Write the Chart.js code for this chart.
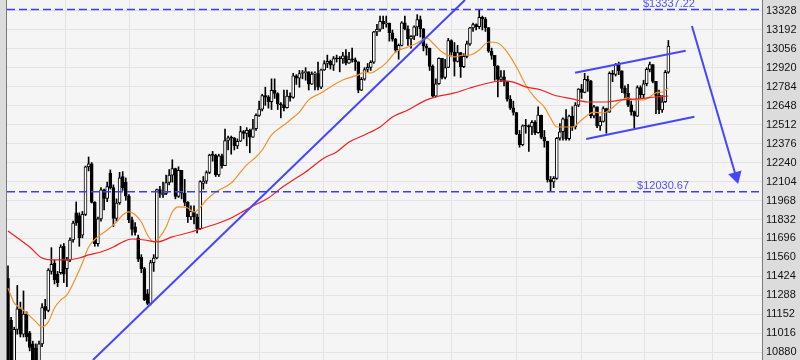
<!DOCTYPE html>
<html>
<head>
<meta charset="utf-8">
<script src="https://cdn.jsdelivr.net/npm/chart.js@4.4.1/dist/chart.umd.min.js"></script>
<style>
  html, body { margin: 0; padding: 0; background: #f5f5f5; }
  canvas { display: block; }
</style>
</head>
<body>
<canvas id="chart" width="800" height="360"></canvas>
<script>
// daily candles, index 0 = first visible session
const OPEN = [11410,11110,10800,11044,11191,11011,11154,11020,10940,10910,10810,10940,11210,11180,11460,11520,11440,11450,11640,11480,
  11542,11685,11880,11860,11720,11869,12209,12231,11955,11658,11836,12044,11983,12165,12060,11840,11950,12140,12100,12000,
  11830,11780,11700,11560,11480,11300,11231,11523,11556,12046,12010,12019,12097,12150,12196,11997,12184,12021,11955,11850,
  11890,11850,11766,12090,12107,12169,12294,12291,12151,12288,12218,12398,12418,12415,12360,12393,12462,12449,12471,12422,
  12482,12578,12623,12720,12709,12676,12758,12735,12660,12654,12633,12716,12706,12862,12845,12878,12884,12891,12801,12874,
  12878,12781,12904,12950,12966,12938,12985,12983,12982,13005,12952,12980,12977,12962,12759,12837,12907,12922,12959,13177,
  13194,13253,13233,13239,13170,13125,13046,13080,13241,13197,13126,13145,13212,13264,13199,13075,13060,12929,12715,12805,
  12987,12850,12921,13115,13032,12965,13029,12928,13001,13090,13205,13229,13214,13280,13269,13207,13038,13008,12932,12835,
  12855,12821,12695,12632,12599,12443,12369,12504,12502,12496,12529,12455,12580,12420,12393,12118,12101,12127,12414,12461,
  12554,12411,12573,12496,12652,12767,12742,12837,12824,12574,12640,12502,12535,12627,12602,12880,12871,12943,12897,12772,
  12736,12653,12605,12573,12777,12727,12805,12908,12943,12822,12721,12617,12676,12887];
const HIGH = [11500,11130,11060,11360,11240,11320,11170,11030,10960,10940,10960,11230,11260,11480,11630,11540,11460,11650,11660,11560,
  11700,11820,11958,11880,11890,12215,12280,12240,11960,11850,12060,12050,12100,12187,12080,11980,12170,12175,12130,12010,
  11850,11810,11720,11580,11490,11330,11540,11580,12050,12070,12100,12150,12190,12260,12200,12210,12184,12120,11960,11930,
  11930,11870,12110,12140,12180,12300,12320,12300,12300,12300,12480,12430,12430,12420,12410,12500,12470,12490,12480,12550,
  12590,12680,12730,12780,12720,12840,12840,12740,12670,12760,12760,12740,12880,12870,12900,12900,12920,12891,12890,12890,
  12960,12910,12970,13010,12975,13000,13010,13000,13030,13050,13030,13060,12990,12962,12850,12920,12950,12970,13180,13230,
  13290,13290,13290,13240,13190,13130,13090,13250,13290,13220,13150,13220,13300,13290,13200,13090,13060,12940,12840,12990,
  12987,12980,13130,13120,13100,13080,13030,13020,13110,13210,13240,13235,13338,13290,13280,13207,13060,13008,12935,12900,
  12900,12821,12720,12680,12600,12470,12510,12550,12510,12540,12540,12640,12580,12470,12393,12140,12140,12420,12520,12560,
  12620,12580,12640,12670,12770,12800,12880,12860,12830,12650,12640,12570,12640,12630,12890,12900,12950,12960,12897,12790,
  12800,12680,12610,12790,12790,12830,12920,12960,12943,12822,12760,12720,12900,13115];
const LOW = [10700,10700,10760,11010,10990,10990,10960,10890,10600,10500,10760,10920,11120,11170,11440,11370,11350,11440,11380,11350,
  11530,11670,11790,11640,11700,11860,12180,11950,11640,11640,11820,11900,11960,12050,11780,11820,11940,12040,11970,11810,
  11720,11720,11530,11450,11250,11220,11220,11460,11550,11990,11990,12010,12080,12100,11980,11990,11980,11930,11810,11830,
  11800,11735,11760,12050,12090,12160,12250,12140,12140,12200,12218,12330,12300,12330,12340,12390,12410,12360,12310,12420,
  12470,12570,12610,12650,12630,12620,12700,12620,12560,12610,12630,12680,12700,12800,12780,12840,12830,12760,12800,12760,
  12760,12770,12900,12920,12910,12900,12960,12890,12950,12940,12950,12960,12900,12740,12755,12830,12890,12900,12950,13150,
  13180,13200,13210,13110,13110,13030,12980,13075,13190,13080,13060,13120,13150,13140,13040,13010,12900,12710,12710,12800,
  12840,12840,12920,13010,12860,12960,12850,12920,12990,13080,13180,13190,13200,13190,13180,13030,12980,12830,12710,12820,
  12790,12680,12620,12580,12440,12350,12360,12450,12320,12440,12440,12450,12410,12350,12100,12035,12060,12120,12400,12400,
  12400,12400,12470,12480,12640,12700,12740,12750,12560,12560,12490,12470,12530,12450,12600,12820,12860,12870,12740,12700,
  12640,12580,12490,12570,12700,12700,12790,12890,12810,12590,12590,12600,12670,12880];
const CLOSE = [10760,10790,11044,11191,11011,11154,10990,10915,10700,10810,10940,11200,11180,11470,11510,11400,11380,11635,11440,11542,
  11685,11807,11810,11700,11869,12209,12231,11955,11658,11836,12044,11983,12068,12060,11840,11950,12130,12060,12000,11830,
  11760,11740,11547,11480,11257,11231,11523,11556,12046,12020,12019,12097,12150,12196,11997,12184,12021,11955,11850,11890,
  11850,11766,12103,12107,12169,12294,12291,12151,12288,12218,12398,12418,12415,12360,12393,12462,12449,12471,12422,12482,
  12578,12623,12720,12709,12676,12758,12735,12660,12654,12633,12716,12706,12862,12845,12878,12884,12891,12801,12874,12878,
  12781,12904,12950,12966,12938,12985,12983,12982,13005,12952,12980,12977,12962,12759,12837,12907,12922,12959,13177,13194,
  13253,13233,13239,13170,13125,13046,13080,13241,13197,13126,13145,13212,13264,13199,13075,13060,12929,12715,12805,12987,
  12850,12921,13115,13032,12965,13029,12928,13001,13090,13205,13229,13214,13280,13269,13207,13038,13008,12932,12835,12855,
  12821,12695,12632,12599,12443,12369,12504,12502,12496,12529,12455,12580,12420,12393,12118,12101,12127,12414,12461,12554,
  12411,12573,12496,12652,12767,12742,12837,12824,12574,12640,12502,12535,12627,12602,12880,12871,12943,12897,12772,12736,
  12653,12605,12573,12777,12727,12805,12908,12943,12822,12721,12617,12676,12887,13075];

// moving averages at these candle indexes
const MA20_IDX = [0,2,4,6,9,11,13,15,17,19,22,24,26,29,32,35,37,39,43,45,47,49,51,53,55,58,60,64,67,72,75,77,80,82,85,89,91,94,97,
  101,104,108,113,115,117,119,122,125,129,132,135,137,140,144,147,149,152,155,158,161,164,167,170,173,175,177,179,182,185,187,189,
  192,194,196,198,200,202,205,209,211,213];
const MA20 = [11340,11234,11198,11162,11098,11062,11098,11198,11255,11291,11420,11520,11635,11707,11757,11814,11864,11886,11814,11721,
  11671,11707,11778,11886,11922,11914,11886,11972,12029,12094,12172,12223,12280,12330,12438,12509,12545,12602,12689,
  12739,12782,12832,12868,12889,12882,12903,12954,13032,13068,13097,13133,13097,13032,12997,13011,13011,13047,13104,13097,13032,
  12925,12796,12703,12638,12559,12495,12495,12495,12545,12581,12602,12595,12617,12653,12689,12703,12689,12689,12739,12746,12774];
const MA50_IDX = [0,7,11,15,19,23,26,30,34,37,40,44,48,53,59,64,68,72,75,79,84,89,92,96,102,106,110,115,120,124,129,135,138,144,
  149,155,159,163,167,172,176,182,187,193,198,203,209,213];
const MA50 = [11750,11635,11556,11542,11542,11556,11578,11599,11635,11671,11692,11685,11671,11707,11742,11778,11807,11843,11879,
  11929,11986,12072,12115,12172,12273,12316,12387,12438,12495,12567,12617,12689,12710,12739,12774,12810,12825,12817,12782,12760,
  12724,12696,12674,12674,12689,12696,12710,12717];

// drawn lines: [index, price] end points
const TREND_UP = [[27.4, 10825], [147.4, 13405]];
const CHANNEL_TOP = [[182.9, 12884], [218.6, 13042]];
const CHANNEL_BOTTOM = [[186.5, 12409], [221.4, 12569]];
const ARROW = [[220.6, 13219], [234.8, 12142]];
const LEVEL_HIGH = 13337.22;
const LEVEL_LOW = 12030.67;

const Y_TICKS = [13328,13192,13056,12920,12784,12648,12512,12376,12240,12104,11968,11832,11696,11560,11424,11288,11152,11016,10880];
const MONTH_LINES = [8.1, 28.7, 49.7, 70.6, 91.6, 111.9, 132.9, 152.9, 175.2, 194.8, 215.8, 238.4];

const X_MIN = -0.32;
const X_MAX = 243.2;
const Y_MIN = 10825;
const Y_MAX = 13405;

const BLUE = "#4646ff";

function toPoints(pairs) {
  return pairs.map(([x, y]) => ({ x, y }));
}

function lineSet(pairs, extra) {
  return Object.assign({
    type: "line",
    data: toPoints(pairs),
    borderColor: BLUE,
    backgroundColor: BLUE,
    borderWidth: 2,
    pointRadius: 0,
    order: 0,
  }, extra);
}

const isUp = (i) => CLOSE[i] >= OPEN[i];

// no label overhang padding, the plot runs edge to edge
function noPadding(scale) {
  scale.paddingTop = 0;
  scale.paddingBottom = 0;
  scale.paddingLeft = 0;
  scale.paddingRight = 0;
}

const frame = {
  id: "frame",
  beforeDraw(chart) {
    const { ctx, chartArea: a, width, height } = chart;
    ctx.save();
    ctx.fillStyle = "#f5f5f5";
    ctx.fillRect(0, 0, width, height);
    ctx.fillStyle = "#dcdcdc";
    ctx.fillRect(a.right, 0, width - a.right, height);
    ctx.fillRect(0, 0, a.left - 1, height);
    ctx.strokeStyle = "#7a7a7a";
    ctx.lineWidth = 1;
    ctx.beginPath();
    ctx.moveTo(a.left - 0.5, 0);
    ctx.lineTo(a.left - 0.5, height);
    ctx.stroke();
    ctx.restore();
  },
  afterDatasetsDraw(chart) {
    const { ctx, scales } = chart;
    ctx.save();
    ctx.font = "11px 'Liberation Sans', Arial, sans-serif";
    ctx.fillStyle = "#5050ff";
    ctx.textBaseline = "alphabetic";
    ctx.textAlign = "left";
    ctx.fillText("$" + LEVEL_HIGH.toFixed(2), scales.x.getPixelForValue(204.8), scales.y.getPixelForValue(LEVEL_HIGH) - 2);
    ctx.fillText("$" + LEVEL_LOW.toFixed(2), scales.x.getPixelForValue(202.9), scales.y.getPixelForValue(LEVEL_LOW) - 3);
    ctx.restore();
  },
};

new Chart(document.getElementById("chart"), {
  type: "bar",
  data: {
    datasets: [
      {
        label: "wick",
        data: CLOSE.map((c, i) => ({ x: i, y: [LOW[i], HIGH[i]] })),
        backgroundColor: "#000",
        barThickness: 1,
        grouped: false,
        order: 4,
      },
      {
        label: "body",
        data: CLOSE.map((c, i) => ({ x: i, y: [OPEN[i], c] })),
        backgroundColor: (ctx) => (isUp(ctx.dataIndex) ? "#ffffff" : "#000000"),
        borderColor: "#000",
        borderWidth: 1,
        borderSkipped: false,
        barThickness: 3,
        minBarLength: 1,
        grouped: false,
        order: 3,
      },
      {
        type: "line",
        label: "MA20",
        data: MA20_IDX.map((x, i) => ({ x, y: MA20[i] })),
        borderColor: "#f0922e",
        borderWidth: 1.2,
        pointRadius: 0,
        cubicInterpolationMode: "monotone",
        order: 2,
      },
      {
        type: "line",
        label: "MA50",
        data: MA50_IDX.map((x, i) => ({ x, y: MA50[i] })),
        borderColor: "#f02020",
        borderWidth: 1.2,
        pointRadius: 0,
        cubicInterpolationMode: "monotone",
        order: 1,
      },
      lineSet([[X_MIN, LEVEL_HIGH], [X_MAX, LEVEL_HIGH]], { borderDash: [8, 4], borderWidth: 1.5, borderColor: "#3c3cff" }),
      lineSet([[X_MIN, LEVEL_LOW], [X_MAX, LEVEL_LOW]], { borderDash: [8, 4], borderWidth: 1.5, borderColor: "#3c3cff" }),
      lineSet(TREND_UP),
      lineSet(CHANNEL_TOP),
      lineSet(CHANNEL_BOTTOM),
      lineSet(ARROW, {
        pointRadius: [0, 8],
        pointStyle: "triangle",
        pointRotation: 164,
        pointBorderWidth: 0,
      }),
    ],
  },
  options: {
    responsive: false,
    animation: false,
    layout: { autoPadding: false, padding: { left: 7, right: 0, top: 0, bottom: 0 } },
    plugins: { legend: { display: false }, tooltip: { enabled: false } },
    scales: {
      x: {
        type: "linear",
        min: X_MIN,
        max: X_MAX,
        offset: false,
        ticks: { display: false },
        border: { display: false },
        grid: { color: "#e3e3e3", drawTicks: false },
        afterBuildTicks: (scale) => { scale.ticks = MONTH_LINES.map((value) => ({ value })); },
        afterFit: (scale) => { scale.height = 0; noPadding(scale); },
      },
      y: {
        position: "right",
        min: Y_MIN,
        max: Y_MAX,
        grid: { color: "#e3e3e3", drawTicks: false },
        border: { color: "#7a7a7a" },
        ticks: {
          color: "#111",
          padding: 4,
          font: { family: "'Liberation Sans', Arial, sans-serif", size: 11 },
          callback: (value) => String(value),
        },
        afterBuildTicks: (scale) => { scale.ticks = Y_TICKS.map((value) => ({ value })); },
        afterFit: (scale) => { scale.width = 38; noPadding(scale); },
      },
    },
  },
  plugins: [frame],
});
</script>
</body>
</html>
